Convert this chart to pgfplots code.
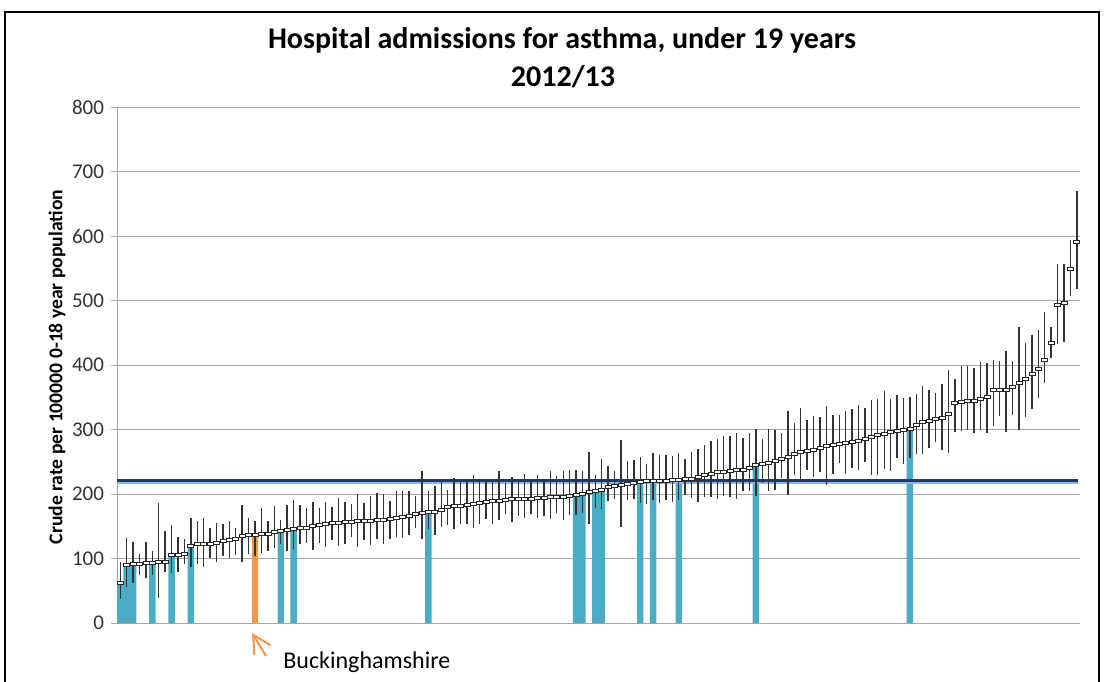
\documentclass[border=0pt]{standalone}
\usepackage{fontspec}
\setmainfont{Carlito}
\usepackage{pgfplots}
\usepackage{pgfplotstable}
\pgfplotsset{compat=1.18}
\usetikzlibrary{arrows.meta}

\definecolor{barteal}{HTML}{4BACC6}
\definecolor{barorange}{HTML}{F79646}
\definecolor{navyline}{HTML}{1F3864}
\definecolor{lightline}{HTML}{8EB4E3}
\definecolor{gridgray}{HTML}{A6A6A6}

% small open box used as the point marker
\pgfdeclareplotmark{hbox}{%
  \pgfpathrectangle{\pgfpoint{-1.5bp}{-0.75bp}}{\pgfpoint{3bp}{1.5bp}}%
  \pgfusepathqfillstroke}

% i = rank, v = crude rate, em/ep = lower/upper CI distance
\pgfplotstableread{
i v em ep
1 62 25 33
2 90 34 42
3 91 29 34
4 92 18 15
5 93 23 32
6 94 20 17
7 95 56 91
8 95 16 47
9 105 27 47
10 105 26 28
11 107 15 23
12 120 33 43
13 122 31 36
14 122 35 41
15 123 22 24
16 124 29 31
17 127 23 27
18 129 28 29
19 131 25 17
20 135 40 48
21 136 29 27
22 137 33 21
23 138 29 40
24 139 27 19
25 141 24 40
26 143 21 17
27 144 32 39
28 146 32 45
29 147 25 36
30 148 24 30
31 150 37 38
32 152 28 26
33 154 36 34
34 155 26 25
35 156 37 38
36 157 34 31
37 157 24 28
38 158 40 42
39 158 30 28
40 159 38 38
41 160 30 42
42 160 38 40
43 162 32 27
44 163 30 42
45 165 33 40
46 166 30 39
47 169 21 28
48 171 40 65
49 172 26 33
50 173 37 40
51 175 26 49
52 180 28 27
53 181 35 44
54 182 29 40
55 183 30 36
56 184 36 46
57 186 32 38
58 188 27 33
59 189 35 32
60 190 31 45
61 191 22 26
62 192 35 34
63 192 26 31
64 193 30 38
65 193 24 27
66 194 31 36
67 194 28 29
68 195 33 40
69 195 24 33
70 196 37 40
71 197 29 41
72 198 31 39
73 200 30 36
74 203 50 62
75 205 27 25
76 207 30 47
77 211 22 32
78 213 20 22
79 214 65 70
80 216 26 35
81 217 25 36
82 219 33 38
83 220 35 27
84 220 30 44
85 221 35 40
86 221 30 39
87 222 34 37
88 222 32 42
89 223 25 32
90 224 30 41
91 226 38 44
92 229 33 47
93 232 37 50
94 234 42 52
95 235 38 55
96 236 40 54
97 237 44 58
98 238 33 49
99 240 36 55
100 245 48 56
101 247 30 38
102 249 45 52
103 252 46 48
104 255 30 40
105 258 60 70
106 262 32 48
107 265 45 68
108 267 30 47
109 269 43 52
110 271 37 48
111 274 60 62
112 276 45 47
113 278 30 44
114 279 48 50
115 281 40 51
116 283 46 55
117 285 35 48
118 289 60 56
119 292 62 55
120 294 55 65
121 296 60 52
122 298 42 55
123 299 52 50
124 301 45 49
125 307 45 48
126 312 50 55
127 313 42 48
128 316 35 40
129 318 50 53
130 324 60 68
131 341 45 37
132 343 45 55
133 345 45 53
134 345 50 50
135 347 47 58
136 350 55 53
137 361 55 47
138 361 40 45
139 362 66 60
140 366 43 40
141 372 72 87
142 378 58 56
143 387 55 60
144 394 45 60
145 408 36 74
146 434 23 25
147 493 60 64
148 496 60 61
149 549 42 45
150 591 73 79
}\rates

% comparator areas (teal bars)
\pgfplotstableread{
i v
1 62
2 90
3 91
6 94
9 105
12 120
26 143
28 146
49 172
72 198
73 200
75 205
76 207
82 219
84 220
88 222
100 245
124 301
}\comparators

% Buckinghamshire (orange bar)
\pgfplotstableread{
i v
22 137
}\bucks

\begin{document}
\begin{tikzpicture}
\begin{scope}[x=0.5bp,y=-0.5bp]
  \path[use as bounding box] (0,0) rectangle (1104,682);
  \draw[line width=1bp] (5,682) -- (5,12) -- (1099,12) -- (1099,682);
  \node[anchor=base, font=\bfseries\fontsize{15bp}{18bp}\selectfont] at (562,49)
    {Hospital admissions for asthma, under 19 years};
  \node[anchor=base, font=\bfseries\fontsize{15bp}{18bp}\selectfont] at (563,87) {2012/13};
  \node[rotate=90, font=\bfseries\fontsize{9.8bp}{11bp}\selectfont] at (57,367)
    {Crude rate per 100000 0-18 year population};
  \node[anchor=base west, inner sep=0pt, font=\fontsize{12bp}{14bp}\selectfont] at (283,668)
    {Buckinghamshire};
  \draw[barorange, line width=1bp, -{Straight Barb[length=9bp,width=9.5bp]}]
    (266,656) -- (252,633);
\end{scope}
\begin{axis}[
  at={(58.5bp,-311.5bp)}, anchor=south west,
  scale only axis, width=481.5bp, height=258bp,
  xmin=0.5, xmax=150.5, ymin=0, ymax=800,
  xtick=\empty, ytick={0,100,...,800},
  axis lines*=left,
  axis line style={gridgray, line width=0.5bp},
  ymajorgrids, grid style={gridgray, line width=0.5bp},
  tick align=outside, major tick length=3bp,
  tick style={gridgray, line width=0.5bp},
  /pgf/number format/assume math mode=true,
  yticklabel style={font=\fontsize{10.5bp}{12bp}\selectfont, text=black!80},
]
  \addplot[ybar, bar width=1.0, bar shift=0pt, fill=barteal, draw=none]
    table[x=i, y=v] {\comparators};
  \addplot[ybar, bar width=1.0, bar shift=0pt, fill=barorange, draw=none]
    table[x=i, y=v] {\bucks};
  \addplot[lightline, line width=1bp] coordinates {(0.5,217.6) (150.2,217.6)};
  \addplot[navyline, line width=1.5bp] coordinates {(0.5,221.3) (150.2,221.3)};
  \addplot[only marks, mark=hbox,
    mark options={fill=white, draw=black!85, line width=0.35bp},
    error bars/.cd, y dir=both, y explicit, error mark=none,
    error bar style={black!80, line width=0.7bp}]
    table[x=i, y=v, y error plus=ep, y error minus=em] {\rates};
\end{axis}
\end{tikzpicture}
\end{document}
